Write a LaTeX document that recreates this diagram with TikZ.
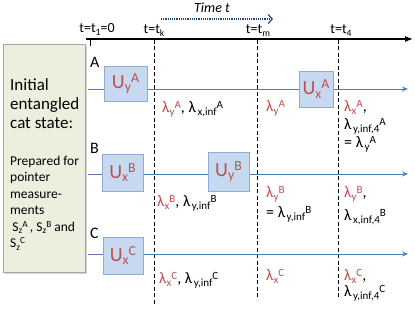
\documentclass[tikz,border=0pt]{standalone}
\usepackage{fontspec}
\setmainfont{Carlito}
\usetikzlibrary{shadows,arrows.meta}
\definecolor{gateblue}{RGB}{198,217,241}
\definecolor{gateedge}{RGB}{140,172,212}
\definecolor{wireblue}{RGB}{79,129,189}
\definecolor{valred}{RGB}{192,80,77}
\definecolor{prepgreen}{RGB}{235,240,222}
\definecolor{timeblue}{RGB}{31,73,125}
\makeatletter
\newcommand{\lo}[1]{\raisebox{-0.35ex}{\fontsize{\fpeval{0.69*\f@size}}{1}\selectfont#1}}
\newcommand{\hi}[1]{\raisebox{0.65ex}{\fontsize{\fpeval{0.69*\f@size}}{1}\selectfont#1}}
\makeatother
\newcommand{\lam}[2]{\textcolor{valred}{λ\lo{#1}\hi{#2}}}
\newcommand{\lamb}[2]{λ\hspace{1.5pt}\lo{#1}\hi{#2}}
\tikzset{
  gate/.style={draw=gateedge, fill=gateblue, minimum height=36pt, inner sep=0pt,
    text=valred, font=\fontsize{20}{24}\selectfont},
  wire/.style={wireblue, thick, -{Stealth[length=6pt,width=5pt,inset=2pt]}},
  cut/.style={thick, dash pattern=on 4pt off 2.5pt},
  val/.style={anchor=base west, inner sep=0pt, font=\fontsize{16}{18}\selectfont},
  tlabel/.style={anchor=base, inner sep=0pt, font=\fontsize{14}{16}\selectfont},
  party/.style={anchor=base west, inner sep=0pt, font=\fontsize{16}{18}\selectfont}
}
\begin{document}
\begin{tikzpicture}[x=1pt, y=-1pt]
  \useasboundingbox (0,0) rectangle (415,312);
  % preparation box
  \node[draw=gray!70, fill=prepgreen, minimum width=82pt, minimum height=228pt,
    drop shadow={shadow xshift=1.5pt, shadow yshift=-1.5pt, opacity=0.35},
    anchor=north west] (prep) at (3,44) {};
  \node[anchor=base west, inner sep=0pt, align=left,
    font=\fontsize{17}{19}\selectfont] (init) at (10,129)
    {Initial\\entangled\\cat state:};
  \node[anchor=base west, inner sep=0pt, align=left,
    font=\fontsize{13.5}{16.5}\selectfont] (ptr) at (10,248)
    {Prepared for\\pointer\\measure-\\ments\\
     \,S\lo{z}\hi{A}\,, S\lo{z}\hi{B} and\\
     S\lo{z}\hi{C}};
  % time axis
  \coordinate (t0) at (86,39);
  \coordinate (tend) at (413,39);
  \draw[very thick, -{Latex[length=8pt,width=6pt]}] (t0) -- (tend);
  \coordinate (tick0) at (90,40);
  \coordinate (tick1) at (90,46);
  \draw (tick0) -- (tick1);
  \node[tlabel] (lt1) at (97,33) {t=t\lo{1}=0};
  \node[tlabel] (ltk) at (154,34) {t=t\lo{k}};
  \node[tlabel] (ltm) at (258,34) {t=t\lo{m}};
  \node[tlabel] (lt4) at (341,34) {t=t\lo{4}};
  \node[tlabel, font=\fontsize{14}{16}\itshape] (tname) at (212,13) {Time t};
  \coordinate (ts) at (161,19);
  \coordinate (te) at (273,19);
  \draw[timeblue, very thick, dash pattern=on 1.2pt off 1pt,
    -{Straight Barb[length=4pt,width=9pt]}] (ts) -- (te);
  % measurement cuts
  \foreach \nm/\x/\yb in {k/154/305, m/257/300, f/338/297} {
    \coordinate (cut\nm top) at (\x,40);
    \coordinate (cut\nm bot) at (\x,\yb);
    \draw[cut] (cut\nm top) -- (cut\nm bot);
  }
  % wires
  \foreach \p/\y in {A/89, B/174, C/254} {
    \coordinate (w\p s) at (88,\y);
    \coordinate (w\p e) at (408,\y);
    \draw[wire] (w\p s) -- (w\p e);
  }
  \node[party] (pA) at (90,68) {A};
  \node[party] (pB) at (90,154) {B};
  \node[party] (pC) at (90,239) {C};
  % gates
  \node[gate, minimum width=43pt, minimum height=35pt] (uyA) at (125.5,83.5)
    {U\lo{y}\hi{A}};
  \node[gate, minimum width=34pt] (uxA) at (316,89)
    {U\lo{x}\hi{A}};
  \node[gate, minimum width=41pt, minimum height=37pt] (uxB) at (122.5,172.5)
    {U\lo{x}\hi{B}};
  \node[gate, minimum width=41pt, minimum height=39pt] (uyB) at (228.5,171.5)
    {U\lo{y}\hi{B}};
  \node[gate, minimum width=40pt, minimum height=37pt] (uxC) at (123,255.5)
    {U\lo{x}\hi{C}};
  % hidden values, interval t_k .. t_m
  \node[val] (vA1) at (162,113) {\lam{y}{A}, \lamb{x,inf}{A}};
  \node[val] (vB1) at (157,207) {\lam{x}{B}, \lamb{y,inf}{B}};
  \node[val] (vC1) at (159,284) {\lam{x}{C}, \lamb{y,inf}{C}};
  % interval t_m .. t_4
  \node[val] (vA2) at (266,112) {\lam{y}{A}};
  \node[val] (vB2) at (266,198) {\lam{y}{B}};
  \node[val] (vB2b) at (266,218) {= \lamb{y,inf}{B}};
  \node[val] (vC2) at (266,281) {\lam{x}{C}};
  % after t_4
  \node[val] (vA3) at (344,112) {\lam{x}{A},};
  \node[val] (vA3b) at (344,130) {\lamb{y,inf,4}{A}};
  \node[val] (vA3c) at (344,148) {= \lamb{y}{A}};
  \node[val] (vB3) at (344,198) {\lam{y}{B},};
  \node[val] (vB3b) at (344,221) {\lamb{x,inf,4}{B}};
  \node[val] (vC3) at (344,281) {\lam{x}{C},};
  \node[val] (vC3b) at (344,297) {\lamb{y,inf,4}{C}};
\end{tikzpicture}
\end{document}
